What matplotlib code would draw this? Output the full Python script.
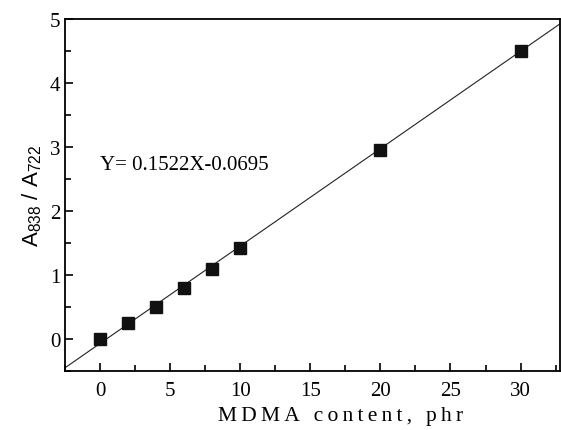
import matplotlib.pyplot as plt
import numpy as np
from matplotlib.ticker import MultipleLocator

plt.rcParams['font.family'] = ['Liberation Serif', 'DejaVu Serif']
plt.rcParams['mathtext.fontset'] = 'custom'
plt.rcParams['mathtext.rm'] = 'Liberation Sans'
plt.rcParams['mathtext.it'] = 'Liberation Sans'

# data
mdma = [0, 2, 4, 6, 8, 10, 20, 30]
ratio = [0.0, 0.25, 0.5, 0.8, 1.1, 1.42, 2.95, 4.5]
slope = 0.1522
intercept = -0.0695

fig = plt.figure(figsize=(5.61, 4.31), dpi=100)
ax = fig.add_axes([0.1159, 0.1369, 0.882, 0.8167])

xlo, xhi = -2.5, 32.8
xf = np.array([xlo, xhi])
ax.plot(xf, slope * xf + intercept, color='#222222', lw=0.8)
ax.plot(mdma, ratio, 's', color='#111111', ms=9)

ax.set_xlim(xlo, xhi)
ax.set_ylim(-0.5, 5.0)
ax.xaxis.set_major_locator(MultipleLocator(5))
ax.xaxis.set_minor_locator(MultipleLocator(2.5))
ax.yaxis.set_major_locator(MultipleLocator(1))
ax.yaxis.set_minor_locator(MultipleLocator(0.5))
ax.tick_params(which='both', direction='in', labelsize=15, width=1.2)
ax.tick_params(which='major', length=6)
ax.tick_params(which='minor', length=4)
ax.tick_params(axis='x', pad=7)
for s in ax.spines.values():
    s.set_linewidth(1.3)

xlab = 'MDMA content, phr'
ax.set_xlabel('\u2009'.join(xlab), fontsize=15.5)
ax.xaxis.set_label_coords(0.556, -0.1)
ax.xaxis.label.set_va('top')
ax.set_ylabel(r'$\mathrm{A_{838}\ /\ A_{722}}$', fontsize=16, labelpad=4,
              family='Liberation Sans')
ax.text(0.0, 2.73, 'Y= 0.1522X-0.0695', fontsize=15, va='center')

fig.savefig('out.png', dpi=100)
